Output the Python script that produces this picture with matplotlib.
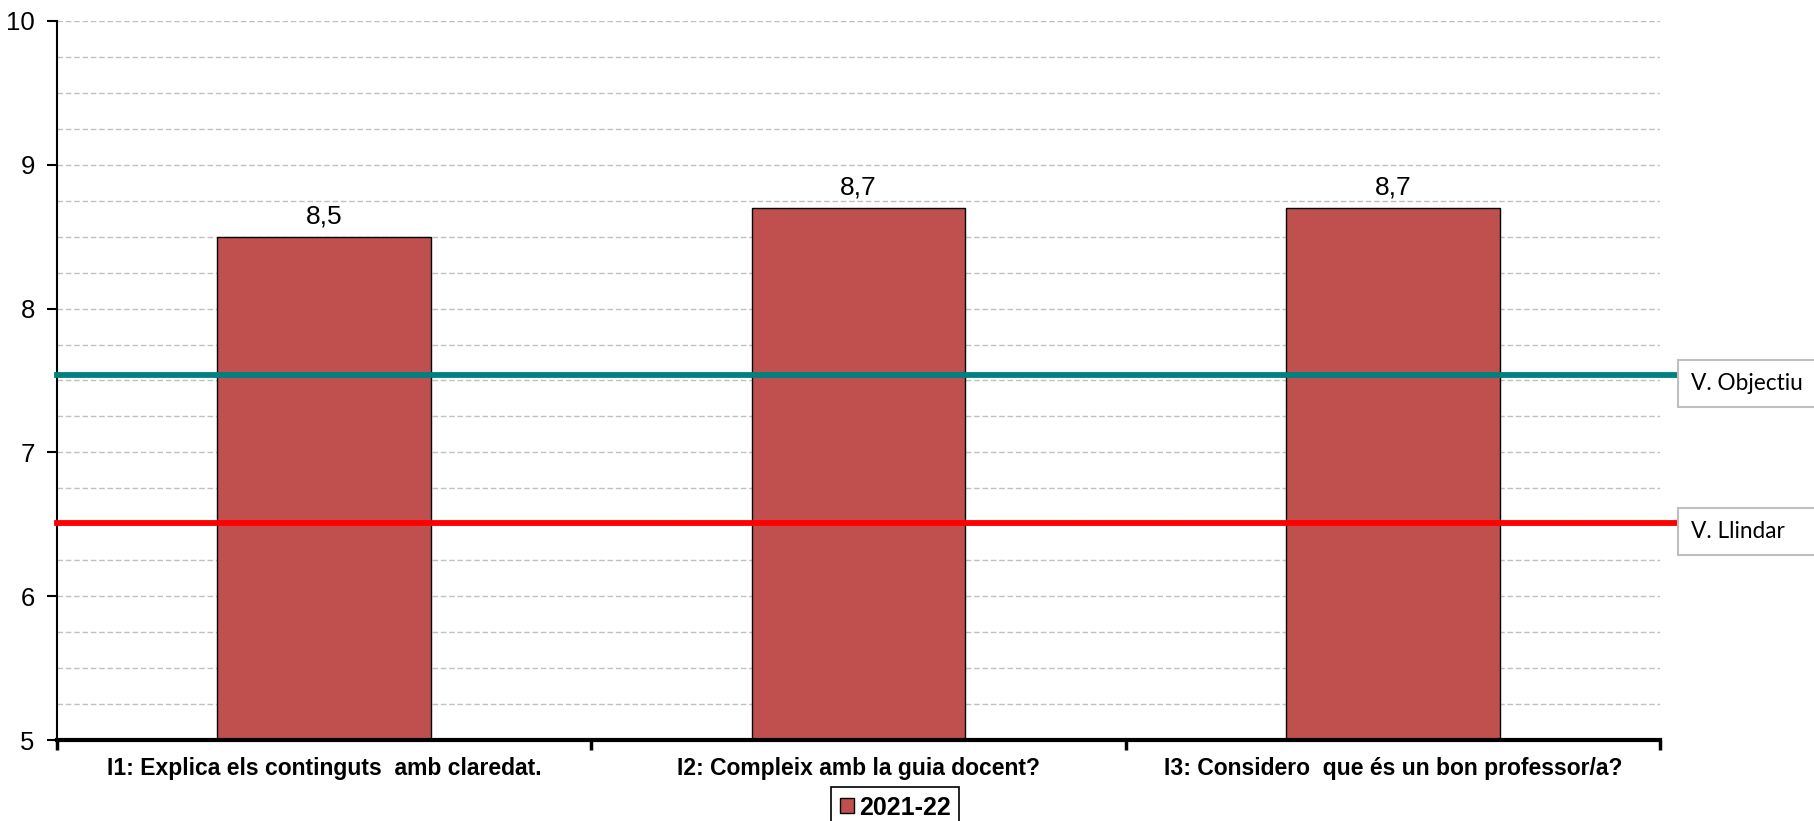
import matplotlib.pyplot as plt
import matplotlib.transforms as mtransforms
from matplotlib.patches import Rectangle
import numpy as np

# Data
categories = ['I1: Explica els continguts  amb claredat.',
              'I2: Compleix amb la guia docent?',
              'I3: Considero  que és un bon professor/a?']
values = [8.5, 8.7, 8.7]
series_name = '2021-22'
target_value = 7.54     # V. Objectiu
threshold_value = 6.51  # V. Llindar
ref_labels = ['V. Objectiu', 'V. Llindar']

plt.rcParams['font.family'] = ['Liberation Sans', 'DejaVu Sans']

fig = plt.figure(figsize=(18.14, 8.21), dpi=100)
ax = fig.add_axes([57 / 1814, 1 - 740 / 821, (1660 - 57) / 1814, (740 - 21) / 821])

x = np.arange(len(categories))
bars = ax.bar(x, values, width=0.4, color='#C0504D', edgecolor='black',
              linewidth=1.0, label=series_name, zorder=3)

for xi, v in zip(x, values):
    ax.text(xi, v + 0.06, ('%.1f' % v).replace('.', ','), ha='center', va='bottom',
            fontsize=19, zorder=4)

ax.set_xlim(-0.5, len(categories) - 0.5)
ax.set_ylim(5, 10)

# grid every 0.25
ax.set_yticks(np.arange(5, 11, 1))
ax.set_yticks(np.arange(5, 10.01, 0.25), minor=True)
ax.yaxis.grid(True, which='both', color='#c0c0c0', linestyle=(0, (4, 2)), linewidth=1.0, zorder=0)
ax.tick_params(axis='y', which='minor', length=0)
ax.tick_params(axis='y', which='major', labelsize=18.5, length=7, width=1.5, pad=9, direction='out')

ax.set_xticks(x)
ax.set_xticklabels(categories, fontsize=16.5, fontweight='bold')
ax.set_xticks(np.arange(-0.5, len(categories), 1), minor=True)
ax.tick_params(axis='x', which='major', length=0, pad=12)
ax.tick_params(axis='x', which='minor', length=7, width=2.5, direction='out')

for s in ['top', 'right']:
    ax.spines[s].set_visible(False)
ax.spines['left'].set_linewidth(1.5)
ax.spines['bottom'].set_linewidth(3)
ax.spines['bottom'].set_zorder(5)

# reference lines with their label boxes
trans = mtransforms.blended_transform_factory(ax.transAxes, ax.transData)
for val, col, lab in zip([target_value, threshold_value], ['#008080', '#ff0000'], ref_labels):
    ax.axhline(val, xmin=0, xmax=1.011, color=col, linewidth=4.2, clip_on=False, zorder=4)
    ax.add_patch(Rectangle((1.011, val - 0.225), 0.2, 0.325, transform=trans, clip_on=False,
                           facecolor='white', edgecolor='#bfbfbf', linewidth=1.5, zorder=4))
    ax.text(1.0195, val - 0.06, lab, transform=trans, ha='left', va='center',
            fontsize=16.3, family=['Lato', 'DejaVu Sans'], zorder=5)

# legend
leg = fig.legend(handles=[bars], labels=[series_name], loc='upper center',
                 bbox_to_anchor=(0.4935, 1 - 787 / 821), ncol=1, fancybox=False,
                 edgecolor='black', framealpha=1, prop={'weight': 'bold', 'size': 18},
                 handlelength=0.55, handleheight=0.55, handletextpad=0.2, borderpad=0.35,
                 borderaxespad=0)
leg.get_frame().set_linewidth(1.2)

fig.savefig('out.png', dpi=100)
